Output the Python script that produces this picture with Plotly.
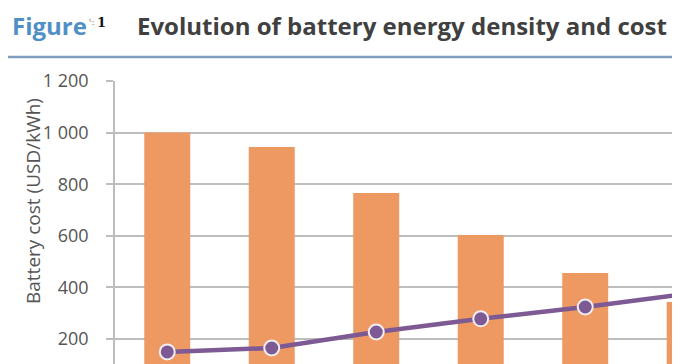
import plotly.graph_objects as go

years = ["2008", "2009", "2010", "2011", "2012", "2013"]
battery_cost = [1000, 944, 766, 603, 456, 343]          # USD/kWh (bars)
energy_density = [150, 165, 227, 278, 324, 376]         # line, read on the same scale
y_ticks = [200, 400, 600, 800, 1000, 1200]
y_tick_labels = ["200", "400", "600", "800", "1 000", "1 200"]

BAR = "#EE9862"
LINE = "#7D5A94"
GRID = "#BDBDBD"
TXT = "#555555"

# page has an 8px body margin -> figure is drawn 8px in from the top-left
OFF = 8
W, H = 680 - OFF, 364 - OFF
L, T = 115 - OFF, 81 - OFF
PW, PH = W - L, H - T


def px(xp):  # page x -> paper x
    return (xp - 115) / PW


def py(yp):  # page y -> paper y
    return (364 - yp) / PH


fig = go.Figure()
fig.add_trace(go.Bar(
    x=list(range(len(years))), y=battery_cost, name="Battery cost",
    marker=dict(color=BAR, line=dict(width=0)), width=0.44,
    hovertext=years,
))
fig.add_trace(go.Scatter(
    x=list(range(len(years))), y=energy_density, name="Energy density",
    mode="lines+markers", cliponaxis=True,
    line=dict(color=LINE, width=4.5),
    marker=dict(size=15, color=LINE, line=dict(color="#F4EEF2", width=2)),
    hovertext=years,
))

fig.update_layout(
    width=W, height=H,
    margin=dict(l=L, r=0, t=T, b=0, autoexpand=False),
    paper_bgcolor="white", plot_bgcolor="white",
    showlegend=False,
    font=dict(family="Open Sans, sans-serif", color=TXT),
    xaxis=dict(range=[-0.5, 4.907], showticklabels=False, showgrid=False,
               zeroline=False, showline=False, ticks=""),
    yaxis=dict(range=[103, 1200], tickvals=y_ticks, ticktext=y_tick_labels,
               showgrid=True, gridcolor=GRID, gridwidth=1.5,
               ticks="outside", ticklen=7, tickcolor=GRID, tickwidth=1.5,
               showline=True, linecolor=GRID, linewidth=1.5,
               zeroline=False, ticklabelstandoff=14,
               tickfont=dict(size=18, color=TXT, family="Open Sans, sans-serif")),
    shapes=[dict(type="line", xref="paper", yref="paper", x0=px(0), x1=1,
                 y0=py(57), y1=py(57), line=dict(color="#7F9DBF", width=2.5))],
    annotations=[
        dict(text="Battery cost (USD/kWh)", xref="paper", yref="paper",
             x=px(33), y=py(201), textangle=-90, xanchor="center", yanchor="middle",
             showarrow=False, font=dict(size=19, color=TXT, family="Open Sans, sans-serif")),
        dict(text="<b>Figure</b>", xref="paper", yref="paper", x=px(10), y=py(26),
             xanchor="left", yanchor="middle", showarrow=False,
             font=dict(size=24, color="#5090C6", family="Open Sans, sans-serif")),
        dict(text="ᵗ:", xref="paper", yref="paper", x=px(87), y=py(21),
             xanchor="left", yanchor="middle", showarrow=False,
             font=dict(size=10, color="#9A8A70", family="DejaVu Serif, serif")),
        dict(text="<b>1</b>", xref="paper", yref="paper", x=px(95), y=py(22),
             xanchor="left", yanchor="middle", showarrow=False,
             font=dict(size=13, color="#111111", family="DejaVu Serif, serif")),
        dict(text="<b>Evolution of battery energy density and cost</b>",
             xref="paper", yref="paper", x=px(135), y=py(26),
             xanchor="left", yanchor="middle", showarrow=False,
             font=dict(size=24, color="#404040", family="Open Sans, sans-serif")),
    ],
)

fig.write_html("out.html")
